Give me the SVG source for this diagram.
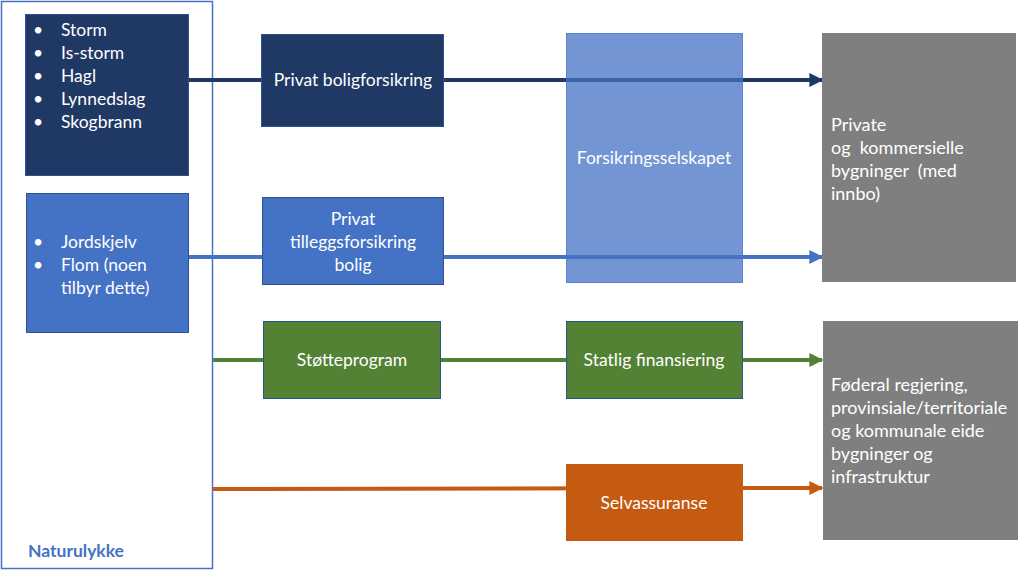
<svg xmlns="http://www.w3.org/2000/svg" width="1024" height="574" viewBox="0 0 1024 574">
<defs>
<style>
text{font-family:Lato,"Liberation Sans",sans-serif;font-size:17.5px;fill:#fff;white-space:pre}
.c{text-anchor:middle}
.g{font-size:18px}
.box{stroke:#2F528F;stroke-width:1}
.ln{fill:none;stroke-width:4}
</style>
<marker id="aNavy" viewBox="0 0 10 10" refX="9" refY="5" markerWidth="3.5" markerHeight="3.5" orient="auto"><path d="M0,0L10,5L0,10Z" fill="#203864"/></marker>
<marker id="aBlue" viewBox="0 0 10 10" refX="9" refY="5" markerWidth="3.5" markerHeight="3.5" orient="auto"><path d="M0,0L10,5L0,10Z" fill="#4472C4"/></marker>
<marker id="aGreen" viewBox="0 0 10 10" refX="9" refY="5" markerWidth="3.5" markerHeight="3.5" orient="auto"><path d="M0,0L10,5L0,10Z" fill="#548235"/></marker>
<marker id="aOrange" viewBox="0 0 10 10" refX="9" refY="5" markerWidth="3.5" markerHeight="3.5" orient="auto"><path d="M0,0L10,5L0,10Z" fill="#C55A11"/></marker>
</defs>
<rect width="1024" height="574" fill="#fff"/>
<g id="naturulykke">
<rect x="1.5" y="1.5" width="211" height="567" fill="#fff" stroke="#4472C4" stroke-width="1.5"/>
<text x="28" y="557" style="font-weight:bold;fill:#4472C4">Naturulykke</text>
</g>
<g id="connectors">
<line class="ln" x1="188" y1="80" x2="822" y2="80" stroke="#203864" marker-end="url(#aNavy)"/>
<line class="ln" x1="188" y1="257" x2="822" y2="257" stroke="#4472C4" marker-end="url(#aBlue)"/>
<line class="ln" x1="213" y1="360" x2="822" y2="360" stroke="#548235" marker-end="url(#aGreen)"/>
<line class="ln" x1="213" y1="489" x2="822" y2="488" stroke="#C55A11" marker-end="url(#aOrange)"/>
</g>
<g id="storm">
<rect class="box" x="25.5" y="14.5" width="163" height="161" fill="#203864"/>
<text x="33" y="36">•</text><text x="61" y="36">Storm</text>
<text x="33" y="59">•</text><text x="61" y="59">Is-storm</text>
<text x="33" y="82">•</text><text x="61" y="82">Hagl</text>
<text x="33" y="105">•</text><text x="61" y="105">Lynnedslag</text>
<text x="33" y="128">•</text><text x="61" y="128">Skogbrann</text>
</g>
<g id="jordskjelv">
<rect class="box" x="26.5" y="193.5" width="162" height="139" fill="#4472C4"/>
<text x="33" y="248">•</text><text x="61" y="248">Jordskjelv</text>
<text x="33" y="271">•</text><text x="61" y="271">Flom (noen</text>
<text x="61" y="294">tilbyr dette)</text>
</g>
<g id="privat-bolig">
<rect class="box" x="261.5" y="34.5" width="182" height="92" fill="#203864"/>
<text class="c" x="353" y="86">Privat boligforsikring</text>
</g>
<g id="privat-tillegg">
<rect class="box" x="262.5" y="197.5" width="181" height="87" fill="#4472C4"/>
<text class="c" x="353" y="225">Privat</text>
<text class="c" x="353" y="248">tilleggsforsikring</text>
<text class="c" x="353" y="271">bolig</text>
</g>
<g id="forsikringsselskapet">
<rect x="566.5" y="33.5" width="176" height="249" fill="#4472C4" fill-opacity="0.75" stroke="#4472C4" stroke-opacity="0.8"/>
<text class="c" x="654" y="164">Forsikringsselskapet</text>
</g>
<g id="stotteprogram">
<rect class="box" x="263.5" y="321.5" width="177" height="77" fill="#548235"/>
<text class="c" x="352" y="366">Støtteprogram</text>
</g>
<g id="statlig">
<rect class="box" x="566.5" y="321.5" width="176" height="77" fill="#548235"/>
<text class="c" x="654" y="366">Statlig finansiering</text>
</g>
<g id="selvassuranse">
<rect x="566" y="464" width="177" height="77" fill="#C55A11"/>
<text class="c" x="654" y="509">Selvassuranse</text>
</g>
<g id="private-bygninger">
<rect x="822" y="33" width="194" height="249" fill="#7F7F7F"/>
<text class="g" x="831" y="131">Private</text>
<text class="g" x="831" y="154">og  kommersielle</text>
<text class="g" x="831" y="177">bygninger  (med</text>
<text class="g" x="831" y="200">innbo)</text>
</g>
<g id="offentlige-bygninger">
<rect x="823" y="321" width="195" height="219" fill="#7F7F7F"/>
<text class="g" x="831" y="391">Føderal regjering,</text>
<text class="g" x="831" y="414">provinsiale/territoriale</text>
<text class="g" x="831" y="437">og kommunale eide</text>
<text class="g" x="831" y="460">bygninger og</text>
<text class="g" x="831" y="483">infrastruktur</text>
</g>
</svg>
